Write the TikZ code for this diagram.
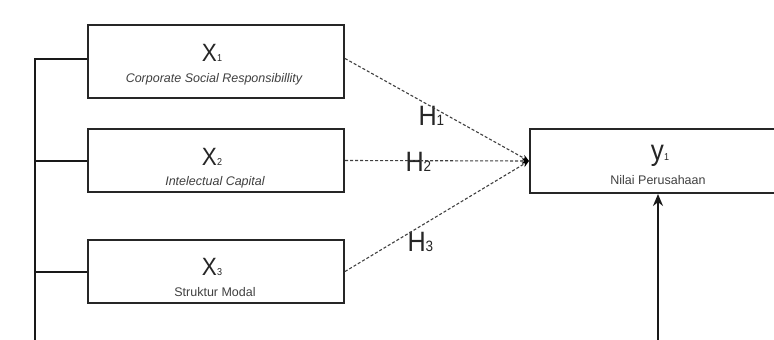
\documentclass[tikz,border=0pt]{standalone}
\usepackage{fontspec}
\setmainfont{Liberation Sans}
\newfontfamily\narrowfont[FakeStretch=0.9]{Liberation Sans}
\usetikzlibrary{arrows.meta,calc}
\begin{document}
\begin{tikzpicture}[x=1pt,y=-1pt,
  box/.style={draw=black!85,line width=2pt,minimum width=256pt,inner sep=0pt},
  big/.style={anchor=base,font=\narrowfont\fontsize{25}{25}\selectfont,text=black!85},
  bigy/.style={anchor=base,font=\narrowfont\fontsize{29}{29}\selectfont,text=black!85},
  subit/.style={anchor=base,font=\fontsize{12.5}{12.5}\selectfont\itshape,text=black!75},
  subup/.style={anchor=base,font=\fontsize{12.5}{12.5}\selectfont,text=black!75},
  hyp/.style={anchor=base west,font=\narrowfont\fontsize{28}{28}\selectfont,text=black!85},
  dashline/.style={draw=black!75,line width=1.1pt,dash pattern=on 3pt off 2pt,-{Stealth[length=7pt,width=6pt,black]}},
  busline/.style={draw=black!90,line width=2pt},
]
\useasboundingbox (0,0) rectangle (774,340);
\fill[white] (0,0) rectangle (774,340);

% boxes
\node[box,minimum height=73pt] (x1) at (216,61.5) {};
\node[box,minimum height=63pt] (x2) at (216,160.5) {};
\node[box,minimum height=63pt] (x3) at (216,271.5) {};
\node[box,minimum height=64pt] (y1) at (658,161) {};

% box texts
\node[big] (x1a) at (212,61) {X{\fontsize{10}{10}\selectfont 1}};
\node[subit] (x1b) at (214,82) {Corporate Social Responsibillity};
\node[big] (x2a) at (212,165) {X{\fontsize{10}{10}\selectfont 2}};
\node[subit] (x2b) at (215,185) {Intelectual Capital};
\node[big] (x3a) at (212,275) {X{\fontsize{10}{10}\selectfont 3}};
\node[subup] (x3b) at (215,296) {Struktur Modal};
\node[bigy] (y1a) at (660,160) {y{\fontsize{10}{10}\selectfont 1}};
\node[subup] (y1b) at (658,184) {Nilai Perusahaan};

% hypothesis labels
\node[hyp] (h1) at (415,125) {H{\fontsize{15}{15}\selectfont 1}};
\node[hyp] (h2) at (402,171) {H{\fontsize{15}{15}\selectfont 2}};
\node[hyp] (h3) at (404,251) {H{\fontsize{15}{15}\selectfont 3}};

% coordinates
\coordinate (p1) at ($(x1.west)+(0,-3)$);
\coordinate (q1) at ($(x1.east)+(0,-3)$);
\coordinate (tgt) at (y1.west);
\coordinate (busbot) at (35,342);
\coordinate (ybot) at (658,342);

% left bus
\draw[busline] (p1) -- (35,58.5) -- (busbot);
\draw[busline] (x2.west) -- (35,160.5);
\draw[busline] (x3.west) -- (35,271.5);
\draw[busline,-{Stealth[length=12pt,width=10pt]}] (ybot) -- (y1.south);

% dashed hypotheses
\draw[dashline] (q1) -- (tgt);
\draw[dashline] (x2.east) -- (tgt);
\draw[dashline] (x3.east) -- (tgt);
\end{tikzpicture}
\end{document}
